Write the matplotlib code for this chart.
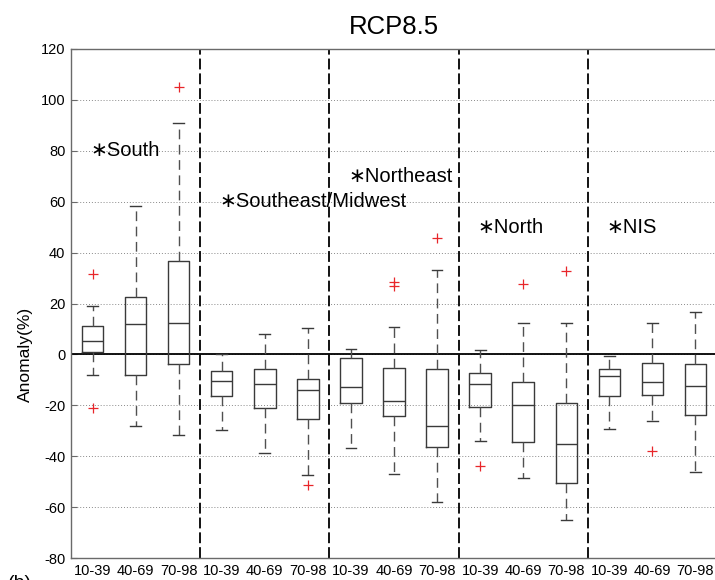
import matplotlib
matplotlib.use("Agg")
import matplotlib.pyplot as plt

# ---- data ----
regions = ["South", "Southeast/Midwest", "Northeast", "North", "NIS"]
region_label_y = [80, 60, 70, 50, 50]
periods = ["10-39", "40-69", "70-98"]

whis_hi = [18.9, 58.2, 91.1, 0.3, 8.1, 10.4, 2.0, 10.9, 33.1, 1.6, 12.2, 12.2, -0.5, 12.2, 16.8]
q3 = [11.0, 22.7, 36.7, -6.4, -5.9, -9.5, -1.3, -5.3, -5.9, -7.4, -10.7, -18.9, -5.7, -3.2, -3.9]
median = [5.2, 11.8, 12.2, -10.3, -11.6, -13.8, -12.8, -18.2, -28.1, -11.6, -19.7, -35.2, -8.4, -10.7, -12.6]
q1 = [1.0, -8.2, -3.6, -16.3, -21.0, -25.4, -19.2, -24.3, -36.4, -20.8, -34.3, -50.4, -16.2, -16.1, -23.8]
whis_lo = [-7.9, -28.0, -31.6, -29.7, -38.9, -47.3, -36.8, -46.9, -57.8, -33.9, -48.4, -65.0, -29.2, -26.0, -46.3]
outliers = [[31.6, -21.0], [], [104.9], [], [], [-51.3], [], [28.6, 26.9], [45.7],
            [-43.8], [27.6], [32.8], [], [-37.9], []]

yticks = [-80, -60, -40, -20, 0, 20, 40, 60, 80, 100, 120]

# ---- figure ----
plt.rcParams['font.family'] = ['Liberation Sans', 'DejaVu Sans']
plt.rcParams['axes.unicode_minus'] = False
W, H = 715, 580
fig = plt.figure(figsize=(W / 100, H / 100), dpi=100)
ax = fig.add_axes([71 / W, 22 / H, (717 - 71) / W, (558 - 49) / H])

n = len(median)
positions = list(range(1, n + 1))
stats = []
for i in range(n):
    stats.append(dict(med=median[i], q1=q1[i], q3=q3[i], whislo=whis_lo[i],
                      whishi=whis_hi[i], fliers=outliers[i]))

ax.bxp(stats, positions=positions, widths=0.5, showfliers=True, capwidths=0.25,
       boxprops=dict(color='#3a3a3a', linewidth=1.0),
       medianprops=dict(color='#3a3a3a', linewidth=1.0),
       whiskerprops=dict(color='#505050', linewidth=1.0, linestyle=(0, (7, 4))),
       capprops=dict(color='#3a3a3a', linewidth=1.0),
       flierprops=dict(marker='+', markeredgecolor='#e8262a', markersize=7,
                       markeredgewidth=0.9, linestyle='none'),
       zorder=3)

ax.set_xlim(0.5, n + 0.5)
ax.set_ylim(-80, 120)
ax.set_yticks(yticks)
ax.set_xticks(positions)
ax.set_xticklabels(periods * len(regions))

# grid
ax.yaxis.grid(True, linestyle=(0, (1, 2)), color='#8a8a8a', linewidth=0.7)
ax.set_axisbelow(True)

# zero line
ax.axhline(0, color='black', linewidth=1.3, zorder=2)

# separators
for k in range(1, len(regions)):
    ax.axvline(3 * k + 0.5, color='black', linewidth=1.3, linestyle=(0, (6, 2.2)), zorder=2)

# region labels
for k, (name, yv) in enumerate(zip(regions, region_label_y)):
    ax.text(3 * k + 1 - 0.06, yv, '\u2217' + name, fontsize=14.5, va='center', ha='left',
            color='black', family=['Liberation Sans', 'DejaVu Sans'])

for s in ax.spines.values():
    s.set_color('#6a6a6a')
    s.set_linewidth(1.0)

ax.tick_params(axis='y', direction='in', length=4, width=0.8, color='#6a6a6a',
               labelsize=10.5, pad=4)
ax.tick_params(axis='x', length=0, labelsize=10.5, pad=4)
ax.tick_params(axis='y', right=False)

ax.set_title('RCP8.5', fontsize=18.5, pad=10.5)
ax.set_ylabel('Anomaly(%)', fontsize=12.5)
ax.yaxis.set_label_coords(-0.059, (0 - (-80)) / 200)

fig.text(8 / W, -8 / H, '(b)', fontsize=14, ha='left', va='baseline')

fig.savefig('out.png', dpi=100)
